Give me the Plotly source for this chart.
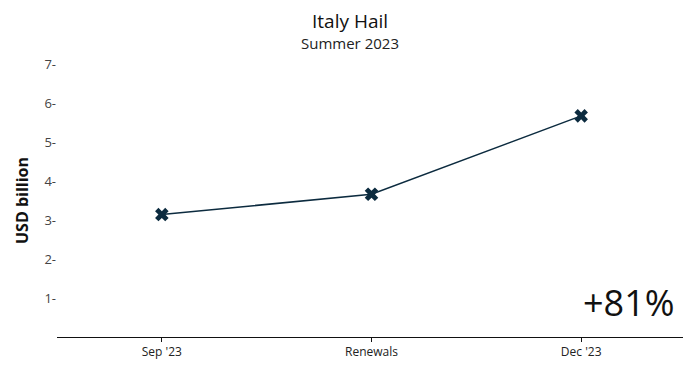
import plotly.graph_objects as go

categories = ["Sep '23", "Renewals", "Dec '23"]
values = [3.14, 3.66, 5.67]
y_ticks = [1, 2, 3, 4, 5, 6, 7]
title = "Italy Hail"
subtitle = "Summer 2023"
change_label = "+81%"

color = "#0c2b3f"
font = "Open Sans"

fig = go.Figure(go.Scatter(
    x=categories, y=values, mode="lines+markers",
    line=dict(color=color, width=1.5),
    marker=dict(symbol="x", size=12, color=color),
    showlegend=False,
))

W, H = 683, 358
L, R, T, B = 49, 5, 56, 29
ph = H - T - B
pw = W - L - R
cx = (342 - L) / pw

fig.update_layout(
    width=W, height=H,
    margin=dict(l=L, r=R, t=T, b=B, autoexpand=False),
    paper_bgcolor="white", plot_bgcolor="white",
    font=dict(family=font, color="#333333"),
)
fig.add_annotation(text=title, xref="paper", yref="paper", x=cx, y=1 + (T - 12.5) / ph,
                   yanchor="middle", showarrow=False, borderpad=0,
                   font=dict(size=19, color="#111111", family=font))
fig.add_annotation(text=subtitle, xref="paper", yref="paper", x=cx, y=1 + (T - 34.5) / ph,
                   yanchor="middle", showarrow=False, borderpad=0,
                   font=dict(size=15, color="#222222", family=font))
fig.add_annotation(text=change_label, xref="paper", yref="paper", x=0.985, y=0.028,
                   xanchor="right", yanchor="bottom", showarrow=False,
                   font=dict(size=36, color="#111111", family=font))

fig.update_xaxes(
    type="category", range=[-0.5, 2.5],
    showline=True, linecolor="#111111", linewidth=1,
    ticks="outside", ticklen=4, tickcolor="#111111",
    showgrid=False, tickfont=dict(size=12, color="#222222"),
)
fig.update_yaxes(
    range=[0, 7], tickvals=y_ticks, ticktext=[str(v) + "-" for v in y_ticks],
    showline=False, showgrid=False, zeroline=False,
    ticks="", ticklen=0,
    tickfont=dict(size=13, color="#444444"),
    title=dict(text="<b>USD billion</b>", font=dict(size=16, color="#111111"), standoff=11),
)

fig.write_html("out.html")
